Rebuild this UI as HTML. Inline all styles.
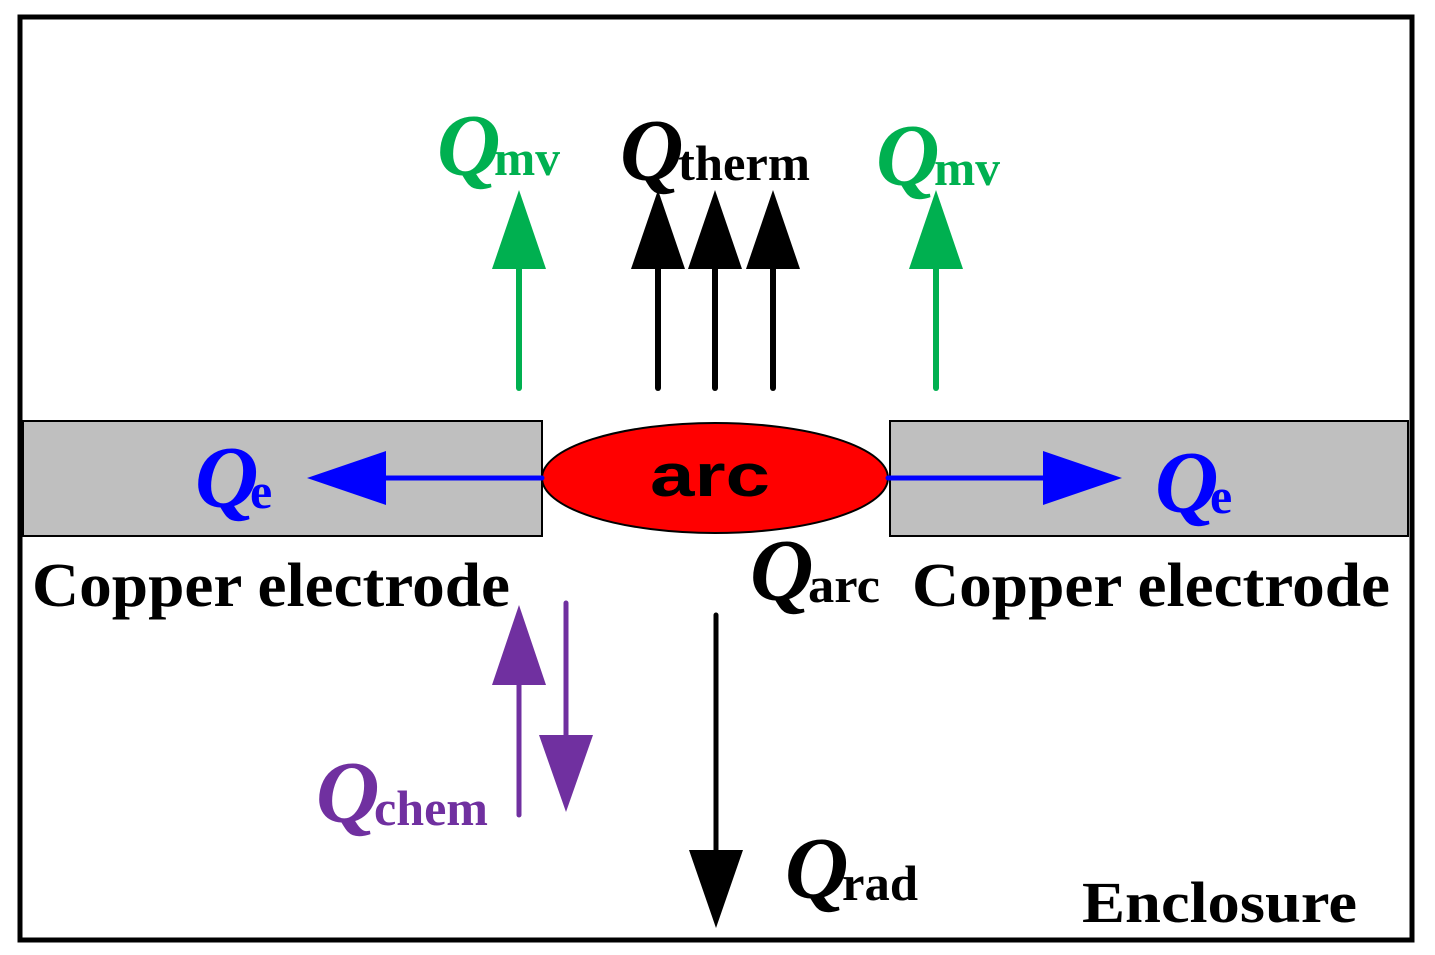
<!DOCTYPE html>
<html><head><meta charset="utf-8"><style>html,body{margin:0;padding:0;background:#fff}svg{display:block}</style></head>
<body>
<svg width="1435" height="955" viewBox="0 0 1435 955" xmlns="http://www.w3.org/2000/svg">
<rect x="20" y="17" width="1392" height="923" fill="#fff" stroke="#000" stroke-width="5"/>
<rect x="23" y="421" width="519" height="115" fill="#bfbfbf" stroke="#000" stroke-width="2"/>
<rect x="890" y="421" width="518" height="115" fill="#bfbfbf" stroke="#000" stroke-width="2"/>
<ellipse cx="715" cy="478" rx="173" ry="55" fill="#ff0000" stroke="#000" stroke-width="2"/>
<text x="650" y="496" font-family="Liberation Sans, sans-serif" font-weight="bold" font-size="60" textLength="120" lengthAdjust="spacingAndGlyphs">arc</text>
<g stroke-linecap="round">
<line x1="519" y1="388" x2="519" y2="265" stroke="#00b050" stroke-width="6"/>
<line x1="936" y1="388" x2="936" y2="265" stroke="#00b050" stroke-width="6"/>
<line x1="658" y1="388" x2="658" y2="265" stroke="#000" stroke-width="6"/>
<line x1="715" y1="388" x2="715" y2="265" stroke="#000" stroke-width="6"/>
<line x1="773" y1="388" x2="773" y2="265" stroke="#000" stroke-width="6"/>
<line x1="542" y1="478" x2="380" y2="478" stroke="#0000ff" stroke-width="5"/>
<line x1="888" y1="478" x2="1048" y2="478" stroke="#0000ff" stroke-width="5"/>
<line x1="519" y1="815" x2="519" y2="680" stroke="#7030a0" stroke-width="5"/>
<line x1="566" y1="603" x2="566" y2="740" stroke="#7030a0" stroke-width="5"/>
<line x1="716" y1="615" x2="716" y2="855" stroke="#000" stroke-width="5"/>
</g>
<polygon points="519,190 492,269 546,269" fill="#00b050"/>
<polygon points="936,190 909,269 963,269" fill="#00b050"/>
<polygon points="658,190 631,269 685,269" fill="#000"/>
<polygon points="715,190 688,269 742,269" fill="#000"/>
<polygon points="773,190 746,269 800,269" fill="#000"/>
<polygon points="307,478 386,451 386,505" fill="#0000ff"/>
<polygon points="1122,478 1043,451 1043,505" fill="#0000ff"/>
<polygon points="519,605 492,685 546,685" fill="#7030a0"/>
<polygon points="566,812 539,735 593,735" fill="#7030a0"/>
<polygon points="716,928 689,850 743,850" fill="#000"/>
<g font-family="Liberation Serif, serif" font-weight="bold">
<g font-style="italic" font-size="88">
<text x="437" y="175" fill="#00b050">Q</text>
<text x="620" y="180" fill="#000">Q</text>
<text x="876" y="185" fill="#00b050">Q</text>
<text x="195" y="507" fill="#0000ff">Q</text>
<text x="1155" y="512" fill="#0000ff">Q</text>
<text x="750" y="600" fill="#000">Q</text>
<text x="316" y="822" fill="#7030a0">Q</text>
<text x="785" y="898" fill="#000">Q</text>
</g>
<g font-size="50">
<text x="494" y="175" fill="#00b050" textLength="66" lengthAdjust="spacingAndGlyphs">mv</text>
<text x="678" y="180" fill="#000" textLength="132" lengthAdjust="spacingAndGlyphs">therm</text>
<text x="934" y="185" fill="#00b050" textLength="66" lengthAdjust="spacingAndGlyphs">mv</text>
<text x="250" y="508" fill="#0000ff">e</text>
<text x="1210" y="513" fill="#0000ff">e</text>
<text x="808" y="602" fill="#000" textLength="72" lengthAdjust="spacingAndGlyphs">arc</text>
<text x="374" y="825" fill="#7030a0" textLength="114" lengthAdjust="spacingAndGlyphs">chem</text>
<text x="842" y="900" fill="#000" textLength="76" lengthAdjust="spacingAndGlyphs">rad</text>
</g>
<g font-size="62" fill="#000">
<text x="32" y="606" textLength="478" lengthAdjust="spacingAndGlyphs">Copper electrode</text>
<text x="912" y="606" textLength="478" lengthAdjust="spacingAndGlyphs">Copper electrode</text>
<text x="1082" y="922" font-size="58" textLength="275" lengthAdjust="spacingAndGlyphs">Enclosure</text>
</g>
</g>
</svg>
</body></html>
